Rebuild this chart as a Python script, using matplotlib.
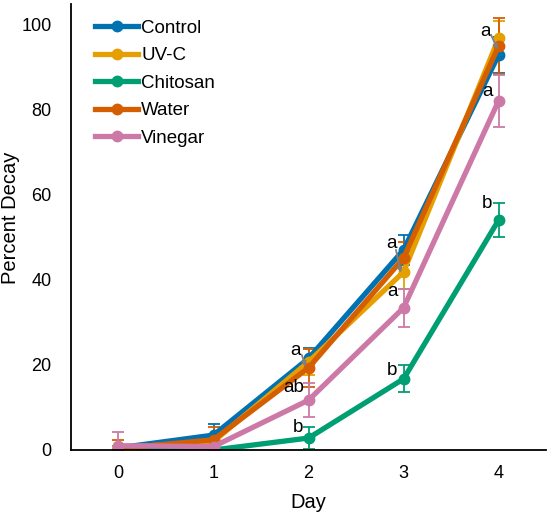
import matplotlib
matplotlib.use("Agg")
import matplotlib.pyplot as plt
from matplotlib.lines import Line2D

plt.rcParams['font.family'] = ['Liberation Sans', 'DejaVu Sans']

days = [0, 1, 2, 3, 4]
series = ["Control", "UV-C", "Chitosan", "Water", "Vinegar"]
colors = ["#0072B2", "#E69F00", "#009E73", "#D55E00", "#CC79A7"]

control = [0.5, 3.5, 21.5, 47.0, 92.8]
uvc = [0.5, 2.0, 20.7, 41.8, 96.7]
chitosan = [0.0, 0.0, 2.8, 16.7, 54.0]
water = [0.3, 2.4, 19.3, 45.1, 94.9]
vinegar = [1.0, 0.8, 11.7, 33.4, 82.0]

control_err = [0.5, 2.6, 2.5, 3.5, 4.3]
uvc_err = [0.5, 1.5, 3.0, 4.0, 4.0]
chitosan_err = [0.0, 0.0, 2.6, 3.2, 4.1]
water_err = [2.0, 3.0, 4.5, 3.8, 6.5]
vinegar_err = [3.2, 0.5, 4.0, 4.5, 6.1]

values = [control, uvc, chitosan, water, vinegar]
errors = [control_err, uvc_err, chitosan_err, water_err, vinegar_err]

# letter annotations: (text, text_x, text_y, arrow_start or None, arrow_end or None)
letters = [
    ("a", 1.86, 23.3, (1.93, 22.3), (1.97, 19.5)),
    ("ab", 1.84, 14.6, None, None),
    ("b", 1.89, 5.2, None, None),
    ("a", 2.87, 48.6, (2.92, 47.0), (2.97, 41.6)),
    ("a", 2.88, 37.1, None, None),
    ("b", 2.88, 18.6, None, None),
    ("a", 3.86, 98.2, (3.92, 97.5), (3.99, 94.0)),
    ("a", 3.88, 84.1, None, None),
    ("b", 3.88, 58.0, None, None),
]

fig = plt.figure(figsize=(5.5, 5.19), dpi=100)
ax = fig.add_axes([0.129, 0.133, 0.864, 0.859])

for name, col, v, e in zip(series, colors, values, errors):
    ax.errorbar(days, v, yerr=e, color=col, lw=3.8, marker='o', markersize=7.5,
                elinewidth=1.3, capsize=4, capthick=1.3, label=name)

for txt, tx, ty, a0, a1 in letters:
    ax.text(tx, ty, txt, fontsize=13.5, ha='center', va='center', color='black')
    if a0 is not None:
        ax.annotate("", xy=a1, xytext=a0,
                    arrowprops=dict(arrowstyle='-|>', color='#808080', lw=1.3,
                                    mutation_scale=7, shrinkA=0, shrinkB=0))

ax.set_xlim(-0.5, 4.5)
ax.set_ylim(0, 104.7)
ax.set_xticks(days)
ax.set_yticks([0, 20, 40, 60, 80, 100])
ax.tick_params(axis='both', length=0, labelsize=13)
ax.tick_params(axis='y', pad=14)
ax.tick_params(axis='x', pad=11)
for s in ['top', 'right']:
    ax.spines[s].set_visible(False)
for s in ['left', 'bottom']:
    ax.spines[s].set_linewidth(1.3)

ax.set_xlabel("Day", fontsize=14.5, labelpad=8)
ax.set_ylabel("Percent Decay", fontsize=14.5)
ax.yaxis.set_label_coords(-0.108, 0.52)

lh = [Line2D([], [], color=c, lw=3.8, marker='o', markersize=7.5) for c in colors]
ax.legend(lh, series, loc='upper left', frameon=False, fontsize=13.5,
          handlelength=2.3, handletextpad=0.15, labelspacing=0.55,
          borderaxespad=0.0, bbox_to_anchor=(0.035, 0.982))

fig.savefig("out.png", dpi=100)
